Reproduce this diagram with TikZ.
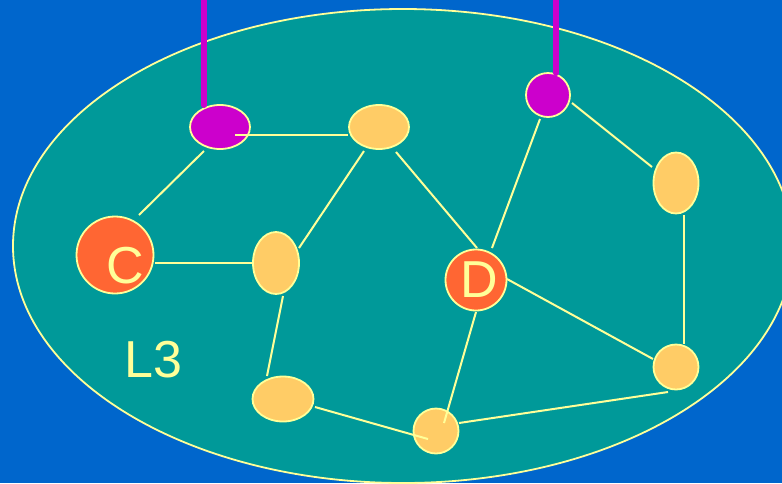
\documentclass[tikz,border=0pt]{standalone}
\usepackage{fontspec}
\setmainfont{Liberation Sans}
\usetikzlibrary{shapes.geometric,calc}
\definecolor{bgblue}{HTML}{0066CC}
\definecolor{teal}{HTML}{009999}
\definecolor{pale}{HTML}{FFFF99}
\definecolor{gold}{HTML}{FFCC66}
\definecolor{mag}{HTML}{CC00CC}
\definecolor{orng}{HTML}{FF6633}
\begin{document}
\begin{tikzpicture}[x=1pt,y=-1pt,
  nd/.style={ellipse,draw=pale,line width=1.8pt,inner sep=0pt},
  goldnd/.style={nd,fill=gold},
  magnd/.style={nd,fill=mag},
  orgnd/.style={nd,fill=orng},
  edge/.style={draw=pale,line width=2pt},
  wire/.style={draw=mag,line width=6pt,line cap=round},
  lbl/.style={text=pale,font=\fontsize{52}{52}\selectfont,inner sep=0pt}]
\useasboundingbox (0,0) rectangle (782,483);
\clip (0,0) rectangle (782,483);
\fill[bgblue] (0,0) rectangle (782,483);
\draw[fill=teal,draw=pale,line width=1.8pt] (403,246) ellipse [x radius=390,y radius=237];
% nodes
\node[magnd,minimum width=60pt,minimum height=44pt] (m1) at (220,127) {};
\node[goldnd,minimum width=60pt,minimum height=44pt] (y1) at (379,127) {};
\node[magnd,minimum width=44pt,minimum height=44pt] (m2) at (548,95) {};
\node[goldnd,minimum width=45pt,minimum height=61pt] (yR) at (676,183) {};
\node[orgnd,minimum width=77pt,minimum height=77pt] (C) at (115,255) {};
\node[goldnd,minimum width=46pt,minimum height=62pt] (y2) at (276,263) {};
\node[orgnd,minimum width=61pt,minimum height=61pt] (D) at (476,280) {};
\node[goldnd,minimum width=45pt,minimum height=45pt] (yB) at (676,367) {};
\node[goldnd,minimum width=61pt,minimum height=45pt] (yL) at (283,399) {};
\node[goldnd,minimum width=45pt,minimum height=45pt] (yM) at (436,431) {};
% labels
\node[lbl] (Ct) at ($(C)+(10,11)$) {C};
\node[lbl] (Dt) at ($(D)+(3,0)$) {D};
\node[lbl] (L3) at (153.5,360) {L3};
% wires
\coordinate (w1) at (204,-5);
\coordinate (w2) at (556,-5);
\draw[wire] (w1) -- ($(m1)+(-16,-22)$);
\draw[wire] (w2) -- ($(m2)+(8,-22)$);
% edges
\draw[edge] ($(m1)+(15,8)$) -- ($(y1)+(-31,8)$);
\draw[edge] ($(m1)+(-16,24)$) -- ($(C)+(24,-40)$);
\draw[edge] ($(C)+(40,8)$) -- ($(y2)+(-23,0)$);
\draw[edge] ($(y2)+(23,-15)$) -- ($(y1)+(-15,24)$);
\draw[edge] ($(y1)+(17,25)$) -- ($(D)+(1,-32)$);
\draw[edge] ($(m2)+(-8,24)$) -- ($(D)+(16,-32)$);
\draw[edge] ($(m2)+(24,8)$) -- ($(yR)+(-24,-16)$);
\draw[edge] ($(yR)+(8,32)$) -- ($(yB)+(8,-23)$);
\draw[edge] ($(D)+(31,-1)$) -- ($(yB)+(-23,-8)$);
\draw[edge] ($(yB)+(-8,25)$) -- ($(yM)+(23,-8)$);
\draw[edge] ($(D)+(0,32)$) -- ($(yM)+(8,-8)$);
\draw[edge] ($(y2)+(7,33)$) -- ($(yL)+(-16,-23)$);
\draw[edge] ($(yL)+(32,8)$) -- ($(yM)+(-8,8)$);
\end{tikzpicture}
\end{document}
